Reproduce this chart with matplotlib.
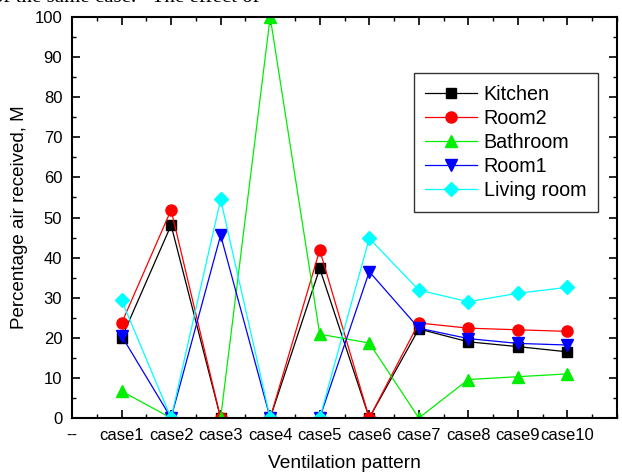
import matplotlib
matplotlib.use("Agg")
import matplotlib.pyplot as plt
from matplotlib.ticker import MultipleLocator

plt.rcParams.update({
    "font.family": ["Liberation Sans", "DejaVu Sans"],
    "xtick.direction": "in",
    "ytick.direction": "in",
    "xtick.top": True,
    "ytick.right": True,
})

cases = ["--", "case1", "case2", "case3", "case4", "case5",
         "case6", "case7", "case8", "case9", "case10"]
x = [1, 2, 3, 4, 5, 6, 7, 8, 9, 10]

kitchen = [19.9, 48.1, 0, 0, 37.3, 0, 22.2, 19.0, 17.8, 16.5]
room2 = [23.6, 51.9, 0, 0, 41.9, 0, 23.7, 22.4, 22.0, 21.6]
bathroom = [6.7, 0, 0, 100, 20.9, 18.7, 0, 9.6, 10.3, 11.0]
room1 = [20.5, 0, 45.6, 0, 0, 36.5, 22.4, 19.8, 18.6, 18.2]
living = [29.4, 0, 54.5, 0, 0, 44.8, 31.9, 29.0, 31.1, 32.6]

series = [
    ("Kitchen", kitchen, "black", "s", 7),
    ("Room2", room2, "red", "o", 8),
    ("Bathroom", bathroom, "#00ee00", "^", 8),
    ("Room1", room1, "blue", "v", 8),
    ("Living room", living, "cyan", "D", 7),
]

fig = plt.figure(figsize=(6.22, 4.74), dpi=100)
ax = fig.add_axes([72 / 622, 1 - 418 / 474, 545 / 622, 401 / 474])

for name, vals, color, marker, ms in series:
    ax.plot(x, vals, color=color, marker=marker, markersize=ms,
            linewidth=0.9, label=name)

ax.set_xlim(0, 11)
ax.set_ylim(0, 100)
ax.set_xticks(range(0, 11))
ax.set_xticklabels(cases)
ax.xaxis.set_minor_locator(MultipleLocator(0.5))
ax.yaxis.set_major_locator(MultipleLocator(10))
ax.yaxis.set_minor_locator(MultipleLocator(5))
ax.tick_params(which="major", length=6, width=1.2, labelsize=12, pad=7)
ax.tick_params(which="minor", length=3, width=1.0)
for s in ax.spines.values():
    s.set_linewidth(1.5)

ax.set_xlabel("Ventilation pattern", fontsize=13.8, labelpad=9)
ax.set_ylabel("Percentage air received, M", fontsize=13.5, labelpad=5)

leg = ax.legend(loc="upper right", bbox_to_anchor=(0.965, 0.86), borderaxespad=0,
                fontsize=14.2, frameon=True, fancybox=False, edgecolor="black",
                handlelength=2.6, handletextpad=0.35, labelspacing=0.25,
                borderpad=0.6)
leg.get_frame().set_linewidth(1.0)

fig.text(-0.012, 1 - 2 / 474, "of the same case.   The effect of",
         family="Liberation Serif", fontsize=15, va="baseline", ha="left")

fig.savefig("out.png", dpi=100)
